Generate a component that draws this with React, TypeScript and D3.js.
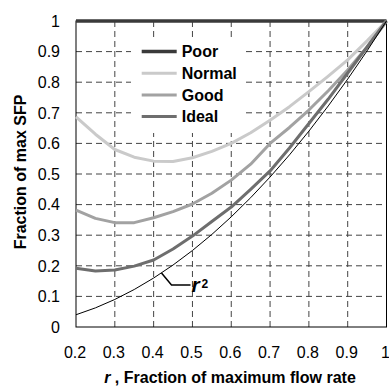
import React from "react";
import * as d3 from "d3";

const rValues = [0.2, 0.25, 0.3, 0.35, 0.4, 0.45, 0.5, 0.55, 0.6, 0.65, 0.7, 0.75, 0.8, 0.85, 0.9, 0.95, 1.0];
const poor = [1, 1, 1, 1, 1, 1, 1, 1, 1, 1, 1, 1, 1, 1, 1, 1, 1];
const normal = [0.687, 0.63, 0.58, 0.555, 0.542, 0.541, 0.553, 0.574, 0.6, 0.635, 0.676, 0.72, 0.769, 0.82, 0.873, 0.935, 1.0];
const good = [0.382, 0.355, 0.341, 0.341, 0.357, 0.377, 0.402, 0.437, 0.48, 0.532, 0.6, 0.652, 0.709, 0.772, 0.84, 0.915, 1.0];
const ideal = [0.192, 0.183, 0.186, 0.199, 0.219, 0.255, 0.297, 0.345, 0.392, 0.45, 0.51, 0.585, 0.665, 0.745, 0.83, 0.915, 1.0];
const rSquared = [0.04, 0.0625, 0.09, 0.1225, 0.16, 0.2025, 0.25, 0.3025, 0.36, 0.4225, 0.49, 0.5625, 0.64, 0.7225, 0.81, 0.9025, 1.0];

const xTicks = [0.2, 0.3, 0.4, 0.5, 0.6, 0.7, 0.8, 0.9, 1];
const xTickLabels = ["0.2", "0.3", "0.4", "0.5", "0.6", "0.7", "0.8", "0.9", "1"];
const yTicks = [0, 0.1, 0.2, 0.3, 0.4, 0.5, 0.6, 0.7, 0.8, 0.9, 1];
const yTickLabels = ["0", "0.1", "0.2", "0.3", "0.4", "0.5", "0.6", "0.7", "0.8", "0.9", "1"];

const seriesNames = ["Poor", "Normal", "Good", "Ideal"];
const seriesData = [poor, normal, good, ideal];
const seriesColors = ["#3a3a3a", "#cacaca", "#a2a2a2", "#6e6e6e"];
const seriesWidths = [3.5, 3, 3, 3];

const W = 389;
const H = 387;
const left = 76;
const right = 386.5;
const top = 21;
const bottom = 327;
const font = "'Liberation Sans', Arial, sans-serif";

export default function App() {
  const x = d3.scaleLinear().domain([0.2, 1]).range([left, right]);
  const y = d3.scaleLinear().domain([0, 1]).range([bottom, top]);
  const line = (vals: number[]) =>
    d3.line<number>().x((_, i) => x(rValues[i])).y((d) => y(d))(vals) || "";

  const legendX = 141.7;
  const legendY0 = 51.5;
  const legendStep = 21.7;

  return (
    <svg
      width={W}
      height={H}
      style={{ position: "fixed", left: 0, top: 0, background: "#fff" }}
      fontFamily={font}
    >
      <rect x={0} y={0} width={W} height={H} fill="#fff" />
      {/* grid */}
      {yTicks.slice(1, -1).map((t) => (
        <line key={"gy" + t} x1={left} x2={right} y1={y(t)} y2={y(t)} stroke="#444" strokeWidth={1} strokeDasharray="6,4" />
      ))}
      {xTicks.slice(1, -1).map((t) => (
        <line key={"gx" + t} x1={x(t)} x2={x(t)} y1={top} y2={bottom} stroke="#444" strokeWidth={1} strokeDasharray="6,4" />
      ))}
      {/* legend background */}
      <rect x={131} y={37} width={114} height={96} fill="#fff" />
      {/* frame */}
      <rect x={left} y={top} width={right - left} height={bottom - top} fill="none" stroke="#000" strokeWidth={1} />
      {/* series */}
      {seriesData.map((s, i) => (
        <path key={seriesNames[i]} d={line(s)} fill="none" stroke={seriesColors[i]} strokeWidth={seriesWidths[i]} strokeLinejoin="round" />
      ))}
      <path d={line(rSquared)} fill="none" stroke="#000" strokeWidth={1} />
      {/* r² annotation */}
      <polyline points="161.5,273 171.5,285 190.5,285" fill="none" stroke="#000" strokeWidth={1.5} />
      <text x={191.5} y={291.5} fontSize={21} fontWeight="bold" fontStyle="italic">r</text>
      <text x={201.5} y={287.5} fontSize={12} fontWeight="bold">2</text>
      {/* legend */}
      {seriesNames.map((n, i) => (
        <g key={"lg" + n}>
          <line x1={legendX} x2={legendX + 35} y1={legendY0 + i * legendStep} y2={legendY0 + i * legendStep} stroke={seriesColors[i]} strokeWidth={seriesWidths[i]} />
          <text x={legendX + 40} y={legendY0 + i * legendStep} dy="0.36em" fontSize={16} fontWeight="bold">{n}</text>
        </g>
      ))}
      {/* y ticks */}
      {yTicks.map((t, i) => (
        <text key={"yt" + t} x={60} y={y(t)} dy="0.36em" textAnchor="end" fontSize={16}>{yTickLabels[i]}</text>
      ))}
      {/* x ticks */}
      {xTicks.map((t, i) => (
        <text key={"xt" + t} x={x(t) - 1} y={358} textAnchor="middle" fontSize={16}>{xTickLabels[i]}</text>
      ))}
      {/* axis titles */}
      <text x={230} y={383} textAnchor="middle" fontSize={16} fontWeight="bold">
        <tspan fontStyle="italic">r</tspan>
        <tspan> , Fraction of maximum flow rate</tspan>
      </text>
      <text transform="translate(26,172) rotate(-90)" textAnchor="middle" fontSize={16} fontWeight="bold">
        Fraction of max SFP
      </text>
    </svg>
  );
}
